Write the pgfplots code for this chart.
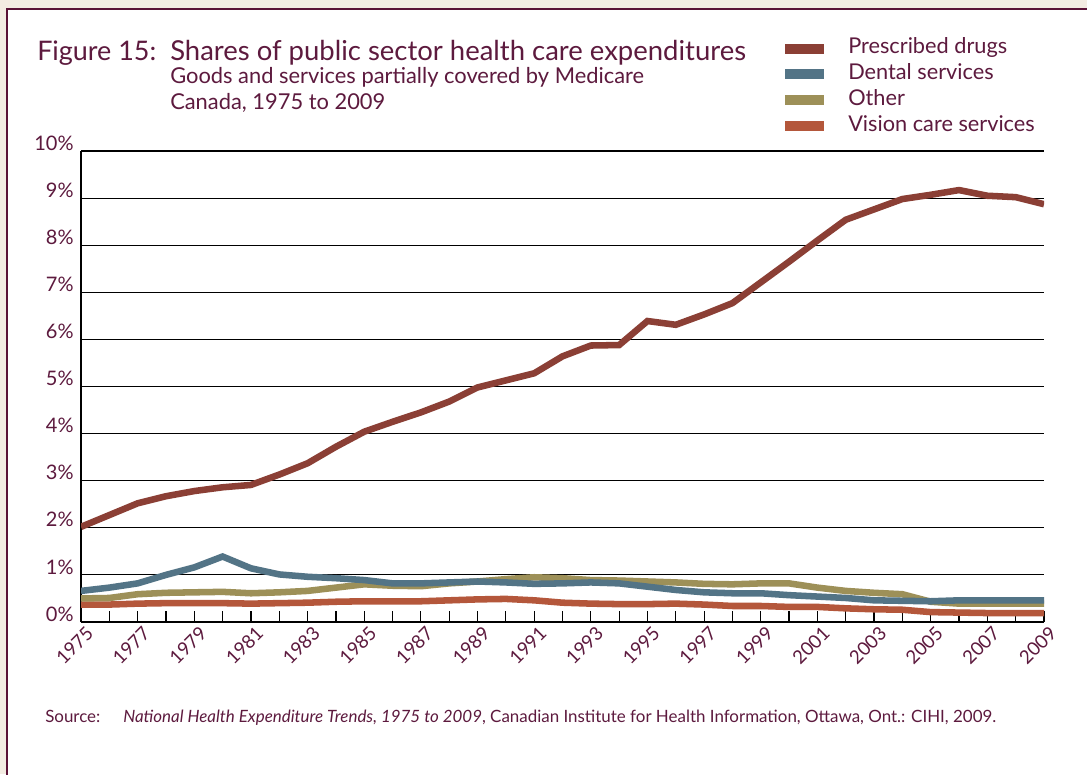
\documentclass[border=0pt]{standalone}
\usepackage{pgfplots}
\pgfplotsset{compat=1.18}
\usepackage{fontspec}
\setmainfont{Lato}
\definecolor{cream}{HTML}{F3ECE2}
\definecolor{framec}{HTML}{5A1236}
\definecolor{textc}{HTML}{5D1A3E}
\definecolor{drugc}{HTML}{8B3F35}
\definecolor{dentc}{HTML}{537486}
\definecolor{othc}{HTML}{9D9058}
\definecolor{visc}{HTML}{B4573B}
\pgfplotstableread{
year drugs dental other vision
1975 2.02 0.66 0.50 0.37
1976 2.27 0.73 0.51 0.37
1977 2.52 0.82 0.59 0.39
1978 2.67 1.00 0.62 0.40
1979 2.78 1.16 0.63 0.40
1980 2.86 1.39 0.64 0.40
1981 2.91 1.14 0.61 0.39
1982 3.13 1.01 0.63 0.40
1983 3.37 0.96 0.66 0.41
1984 3.72 0.93 0.73 0.43
1985 4.04 0.89 0.80 0.44
1986 4.25 0.82 0.77 0.44
1987 4.45 0.82 0.76 0.44
1988 4.68 0.84 0.82 0.46
1989 4.98 0.86 0.86 0.48
1990 5.13 0.84 0.91 0.49
1991 5.28 0.81 0.95 0.46
1992 5.64 0.82 0.93 0.41
1993 5.87 0.84 0.89 0.39
1994 5.88 0.82 0.88 0.38
1995 6.39 0.75 0.86 0.38
1996 6.31 0.68 0.84 0.39
1997 6.53 0.63 0.81 0.37
1998 6.77 0.61 0.80 0.34
1999 7.21 0.61 0.82 0.34
2000 7.65 0.57 0.82 0.32
2001 8.10 0.54 0.73 0.32
2002 8.54 0.51 0.66 0.29
2003 8.76 0.46 0.62 0.27
2004 8.98 0.45 0.59 0.26
2005 9.07 0.44 0.43 0.21
2006 9.17 0.46 0.39 0.20
2007 9.05 0.46 0.39 0.19
2008 9.02 0.46 0.39 0.19
2009 8.87 0.46 0.39 0.19
}\datatable
\begin{document}
\begin{tikzpicture}
\useasboundingbox (0,0) rectangle (815.25pt,580.5pt);
\fill[cream] (0,0) rectangle (815.25pt,580.5pt);
\fill[white] (5.25pt,0) rectangle (816pt,573.75pt);
\draw[framec, line width=2pt] (5.25pt,-2pt) -- (5.25pt,573.75pt) -- (818pt,573.75pt);
% titles
\node[anchor=base west, text=textc, font=\fontsize{20.2}{24}\selectfont, inner sep=0pt] at (27.75pt,535pt) {Figure 15:};
\node[anchor=base west, text=textc, font=\fontsize{20.6}{24}\selectfont, inner sep=0pt] at (127.5pt,535pt) {Shares of public sector health care expenditures};
\node[anchor=base west, text=textc, font=\fontsize{16.4}{18}\selectfont, inner sep=0pt] at (127.5pt,517.5pt) {Goods and services partially covered by Medicare};
\node[anchor=base west, text=textc, font=\fontsize{16.4}{18}\selectfont, inner sep=0pt] at (127.5pt,498pt) {Canada, 1975 to 2009};
% source
\node[anchor=base west, text=textc, font=\fontsize{12.7}{14}\selectfont, inner sep=0pt] at (33.75pt,39pt) {Source:};
\node[anchor=base west, text=textc, font=\fontsize{12.7}{14}\selectfont, inner sep=0pt] at (92.25pt,39pt) {\textit{National Health Expenditure Trends, 1975 to 2009}, Canadian Institute for Health Information, Ottawa, Ont.: CIHI, 2009.};
\begin{axis}[
  at={(60.75pt,114pt)}, anchor=south west,
  scale only axis, width=722.25pt, height=353.25pt,
  xmin=1975, xmax=2009, ymin=0, ymax=10,
  axis x line*=bottom, axis y line*=left,
  axis line style={black, line width=1.1pt, -},
  xtick={1975,1977,...,2009},
  minor xtick={1976,1978,...,2008},
  xticklabels={1975,1977,1979,1981,1983,1985,1987,1989,1991,1993,1995,1997,1999,2001,2003,2005,2007,2009},
  tick align=inside, major tick length=8.25pt, minor tick length=8.25pt,
  every tick/.style={black, line width=0.9pt},
  ytick={0,1,...,10},
  yticklabels={0\%,1\%,2\%,3\%,4\%,5\%,6\%,7\%,8\%,9\%,10\%},
  ytick style={draw=none},
  ymajorgrids, major grid style={black, line width=0.8pt},
  xticklabel style={rotate=45, anchor=east, text=textc, font=\fontsize{14}{16}\selectfont, xshift=4pt, yshift=-9pt},
  yticklabel style={text=textc, font=\fontsize{15}{18}\selectfont, yshift=6pt, xshift=-2pt},
  legend style={at={(0.7217,1.245)}, anchor=north west, draw=none, fill=none,
    font=\fontsize{16.3}{18}\selectfont, text=textc, row sep=4.3pt,
    nodes={inner sep=0pt, text height=11.5pt, text depth=3.5pt}},
  legend cell align=left, reverse legend,
  legend image code/.code={\draw[#1, line width=7.5pt] (0pt,0pt) -- (29.25pt,0pt); \path[draw=none] (0pt,0pt) -- (47.25pt,0pt);},
  every axis plot/.append style={line width=4.9pt, line join=miter},
]
\addplot[visc, no markers] table[x=year, y=vision] {\datatable};
\addlegendentry{Vision care services}
\addplot[othc, no markers] table[x=year, y=other] {\datatable};
\addlegendentry{Other}
\addplot[dentc, no markers] table[x=year, y=dental] {\datatable};
\addlegendentry{Dental services}
\addplot[drugc, no markers] table[x=year, y=drugs] {\datatable};
\addlegendentry{Prescribed drugs}
\end{axis}
\end{tikzpicture}
\end{document}
